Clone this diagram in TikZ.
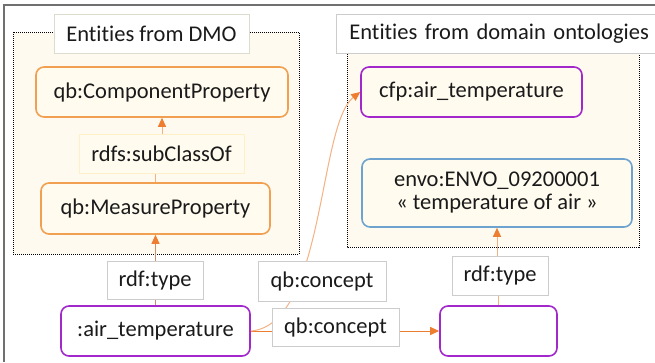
\documentclass[tikz,border=0pt]{standalone}
\usepackage{fontspec}
\setmainfont[Ligatures=NoCommon]{Carlito}
\usetikzlibrary{arrows.meta}
\definecolor{areafill}{HTML}{FEFAF0}
\definecolor{boxfill}{HTML}{FFFBEF}
\definecolor{orangeb}{HTML}{F0A050}
\definecolor{purpleb}{HTML}{A228CC}
\definecolor{blueb}{HTML}{6FA3CF}
\definecolor{labelb}{HTML}{CCCCCC}
\definecolor{titleb}{HTML}{DCDCCC}
\definecolor{subb}{HTML}{FFF0C8}
\definecolor{arrowc}{HTML}{ED7D31}
\definecolor{lightline}{HTML}{F4B183}
\definecolor{brownline}{HTML}{C89070}
\definecolor{framec}{HTML}{707070}
\definecolor{textc}{HTML}{1A1A1A}
\tikzset{
  area/.style={draw=black, line width=1pt, dash pattern=on 1pt off 1pt, fill=areafill},
  boxbase/.style={rounded corners=8pt, line width=1.6pt, inner sep=0pt, align=center, text=textc},
  obox/.style={boxbase, draw=orangeb, fill=boxfill},
  pbox/.style={boxbase, draw=purpleb, fill=white},
  pboxc/.style={boxbase, draw=purpleb, fill=boxfill},
  bbox/.style={boxbase, draw=blueb, fill=boxfill},
  lab/.style={draw=labelb, line width=0.8pt, fill=white, inner sep=0pt, text=textc},
  conn/.style={line width=1pt, -{Triangle[length=9pt,width=8pt,color=arrowc]}},
}
\begin{document}
\begin{tikzpicture}[x=1pt,y=-1pt, font=\fontsize{22.5}{26}\selectfont]
\useasboundingbox (0,0) rectangle (655,362);
% frame
\draw[framec, line width=1.8pt] (4,362) -- (4,5) -- (655,5);
% areas
\path[area] (13,32) rectangle (299,254);
\path[area] (347,32) rectangle (639,247);
% titles
\node[lab, draw=titleb, minimum width=195, minimum height=39] (t1) at (151.5,33.5) {Entities from DMO};
\node[lab, anchor=west, text width=300, align=left, inner xsep=13pt, minimum height=39] (t2) at (336,33.5) {Entities from domain ontologies};
% DMO nodes
\node[obox, minimum width=252, minimum height=50] (cp) at (162,92) {qb:ComponentProperty};
\node[obox, minimum width=229, minimum height=51] (mp) at (155.5,208.5) {qb:MeasureProperty};
% domain nodes
\node[pboxc, minimum width=221, minimum height=50] (cfp) at (471.5,92) {cfp:air\_temperature};
\node[bbox, minimum width=270, minimum height=68] (envo) at (497,193) {envo:ENVO\_09200001\\[-3pt]« temperature of air »};
% bottom nodes
\node[pbox, minimum width=189, minimum height=50] (air) at (155.5,331) {:air\_temperature};
\node[pbox, minimum width=117, minimum height=50] (blank) at (498.5,331) {};
% connectors
\draw[conn, draw=lightline] (mp.north) -- ++(0,-17) -| (cp.south);
\draw[conn, draw=brownline] (air.north) -- (mp.south);
\draw[conn, draw=lightline] (blank.north) -- ++(0,-30) -| (envo.south);
\draw[conn, draw=arrowc] (air.east) -- (blank.west);
\draw[conn, draw=lightline] (air.east) .. controls (325,325) and (318,125) .. (cfp.west);
% labels
\node[lab, draw=subb, fill=boxfill, minimum width=165, minimum height=39] (sc) at (161.5,153.5) {rdfs:subClassOf};
\node[lab, minimum width=96, minimum height=38] (rt1) at (155,280) {rdf:type};
\node[lab, minimum width=96, minimum height=39] (rt2) at (500,275.5) {rdf:type};
\node[lab, minimum width=128, minimum height=40] (qc1) at (322,281) {qb:concept};
\node[lab, minimum width=127, minimum height=38] (qc2) at (335.5,327) {qb:concept};
\end{tikzpicture}
\end{document}
